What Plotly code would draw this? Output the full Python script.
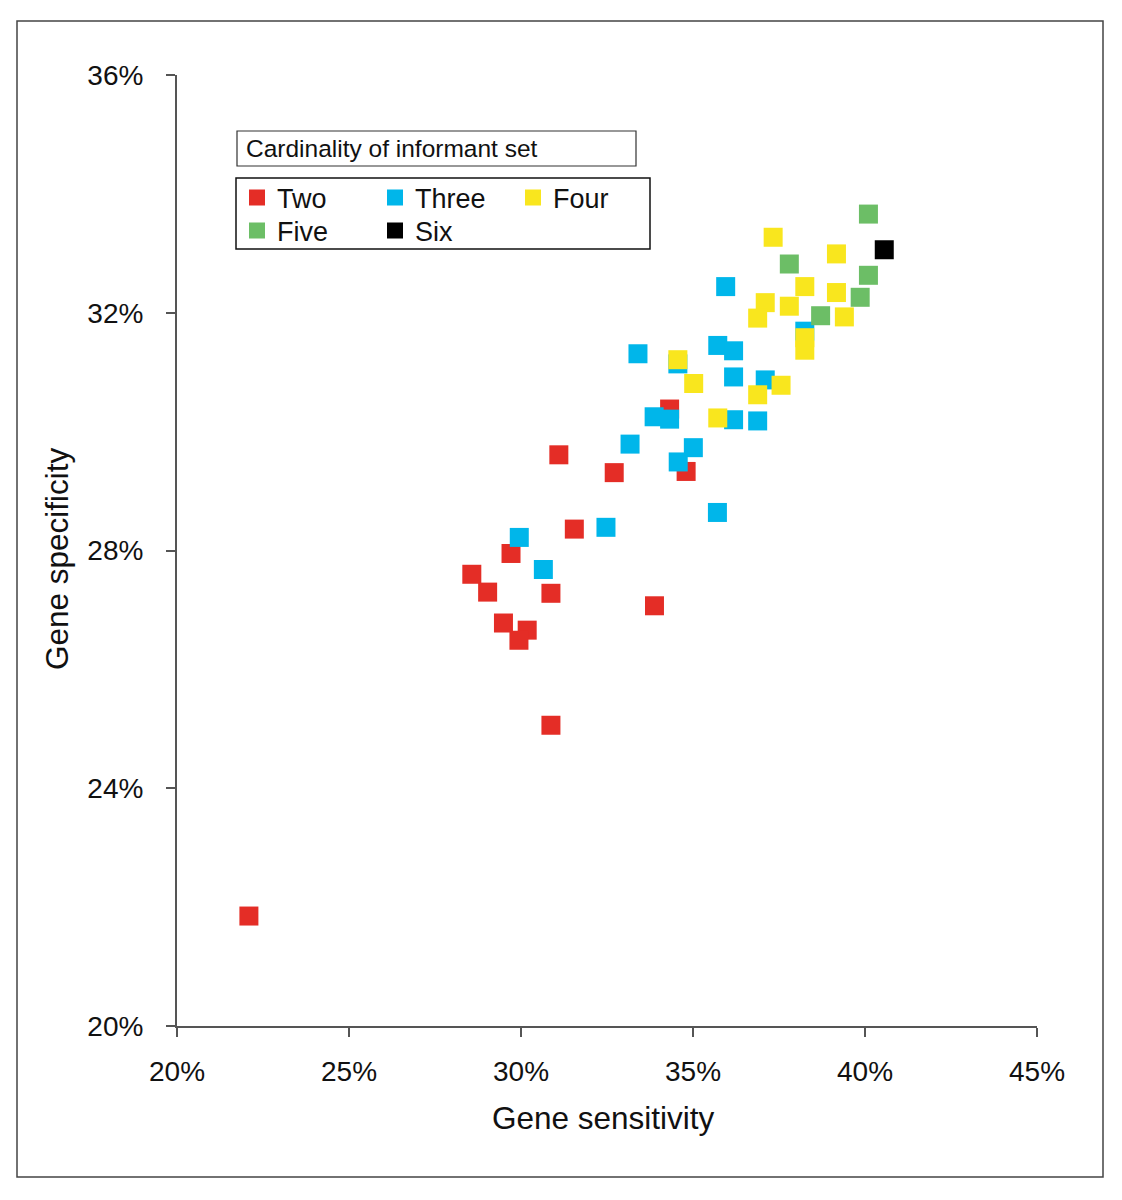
import plotly.graph_objects as go

# ---- data (percent) ----
two_x = [22.09, 34.32, 31.10, 34.80, 32.71, 31.55, 29.71, 28.57, 29.03, 30.87, 33.88, 29.49, 30.18, 29.94, 30.87]
two_y = [21.85, 30.38, 29.61, 29.33, 29.31, 28.36, 27.95, 27.60, 27.30, 27.28, 27.07, 26.78, 26.66, 26.49, 25.06]

three_x = [35.95, 38.25, 33.40, 34.56, 35.72, 36.18, 36.18, 37.10, 33.87, 34.32, 36.18, 36.88, 33.17, 35.01, 34.57, 35.71, 32.47, 29.95, 30.65]
three_y = [32.44, 31.69, 31.31, 31.14, 31.45, 31.36, 30.92, 30.87, 30.25, 30.21, 30.20, 30.18, 29.79, 29.73, 29.49, 28.64, 28.39, 28.22, 27.68]

four_x = [37.33, 39.17, 38.25, 39.17, 37.10, 37.80, 36.88, 39.40, 38.25, 38.25, 34.56, 35.02, 37.56, 36.88, 35.72]
four_y = [33.27, 32.99, 32.44, 32.34, 32.17, 32.11, 31.91, 31.93, 31.58, 31.37, 31.21, 30.81, 30.78, 30.62, 30.23]

five_x = [40.10, 37.80, 40.10, 39.86, 38.71]
five_y = [33.66, 32.82, 32.63, 32.26, 31.95]

six_x = [40.56]
six_y = [33.06]

series_names = ["Two", "Three", "Four", "Five", "Six"]
x_ticks = [20, 25, 30, 35, 40, 45]
x_tick_labels = ["20%", "25%", "30%", "35%", "40%", "45%"]
y_ticks = [20, 24, 28, 32, 36]
y_tick_labels = ["20%", "24%", "28%", "32%", "36%"]

colors = ["#E42D26", "#00B6EA", "#F9E61E", "#6CBE66", "#000000"]
FONT = "Liberation Sans, Arial, Helvetica, sans-serif"

OFF = 8  # page body margin
W, H = 1122 - OFF, 1200 - OFF
L, R, T, B = 177 - OFF, 85, 75 - OFF, 174
PW, PH = W - L - R, H - T - B


def px(xp):
    return (xp - OFF - L) / PW


def py(yp):
    return (H - B - (yp - OFF)) / PH


fig = go.Figure()
data = [(two_x, two_y), (three_x, three_y), (four_x, four_y), (five_x, five_y), (six_x, six_y)]
legends = ["legend", "legend", "legend", "legend2", "legend2"]
for name, (xs, ys), c, lg in zip(series_names, data, colors, legends):
    fig.add_trace(go.Scatter(
        x=xs, y=ys, mode="markers", name=name, legend=lg,
        marker=dict(symbol="square", size=19, color=c, line=dict(width=0)),
        cliponaxis=False,
    ))

axis_common = dict(
    showgrid=False, zeroline=False, showline=True, linecolor="#555555", linewidth=2,
    ticks="outside", ticklen=9, tickwidth=2, tickcolor="#555555",
    tickfont=dict(family=FONT, size=28, color="#111111"),
)
fig.update_xaxes(range=[20, 45], tickvals=x_ticks, ticktext=x_tick_labels,
                 ticklabelstandoff=10, **axis_common)
fig.update_yaxes(range=[20, 36], tickvals=y_ticks, ticktext=y_tick_labels,
                 ticklabelstandoff=17, **axis_common)

legend_common = dict(
    orientation="h", bgcolor="rgba(0,0,0,0)", borderwidth=0,
    font=dict(family=FONT, size=27, color="#111111"),
    entrywidth=93, entrywidthmode="pixels", xanchor="left", yanchor="middle",
    itemsizing="trace", traceorder="normal",
)
fig.update_layout(
    width=W, height=H, autosize=False,
    margin=dict(l=L, r=R, t=T, b=B, pad=0),
    paper_bgcolor="white", plot_bgcolor="white",
    showlegend=True,
    legend=dict(x=px(237), y=py(198), **legend_common),
    legend2=dict(x=px(237), y=py(231), **legend_common),
    shapes=[
        dict(type="rect", xref="paper", yref="paper", x0=px(17), x1=px(1103), y0=py(1177), y1=py(21),
             line=dict(color="#444444", width=1.5), fillcolor="rgba(0,0,0,0)", layer="below"),
        dict(type="rect", xref="paper", yref="paper", x0=px(237), x1=px(636), y0=py(166), y1=py(131),
             line=dict(color="#333333", width=1.2), fillcolor="white"),
        dict(type="rect", xref="paper", yref="paper", x0=px(236), x1=px(650), y0=py(249), y1=py(178),
             line=dict(color="#111111", width=1.5), fillcolor="rgba(0,0,0,0)"),
    ],
    annotations=[
        dict(text="Cardinality of informant set", xref="paper", yref="paper", x=px(244), y=py(149),
             xanchor="left", yanchor="middle", showarrow=False,
             font=dict(family=FONT, size=24.5, color="#111111")),
        dict(text="Gene sensitivity", xref="paper", yref="paper", x=px(603), y=py(1118),
             xanchor="center", yanchor="middle", showarrow=False,
             font=dict(family=FONT, size=31.5, color="#111111")),
        dict(text="Gene specificity", xref="paper", yref="paper", x=px(57), y=py(559),
             xanchor="center", yanchor="middle", showarrow=False, textangle=-90,
             font=dict(family=FONT, size=31.5, color="#111111")),
    ],
)

fig.write_html("out.html")
